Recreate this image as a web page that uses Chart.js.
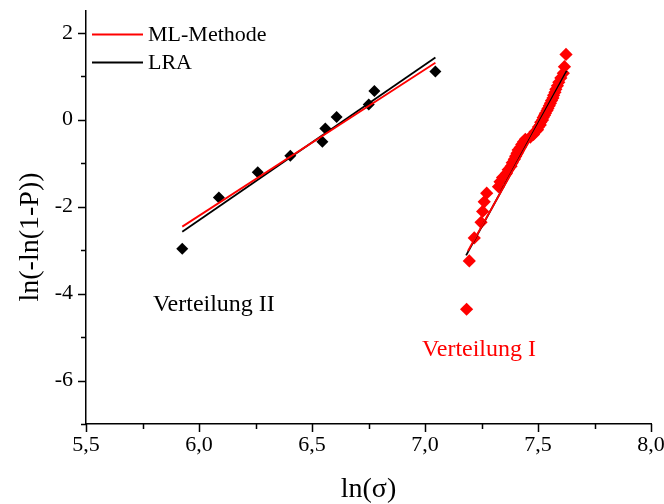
<!DOCTYPE html>
<html>
<head>
<meta charset="utf-8">
<script src="https://cdn.jsdelivr.net/npm/chart.js@4/dist/chart.umd.min.js"></script>
<style>
  html, body { margin: 0; padding: 0; background: #fff; }
  canvas { display: block; }
</style>
</head>
<body>
<canvas id="c" width="664" height="504"></canvas>
<script>
// Weibull plot: ln(-ln(1-P)) against ln(sigma) for two strength distributions

// Distribution II (black markers)
const distIIx = [5.926, 6.088, 6.260, 6.404, 6.546, 6.559, 6.609, 6.751, 6.776, 7.046];
const distIIy = [-2.97, -1.79, -1.21, -0.83, -0.51, -0.20, 0.06, 0.35, 0.66, 1.11];

// Distribution I (red markers)
const distIx = [7.184, 7.196, 7.218, 7.248, 7.255, 7.262, 7.273,
  7.325, 7.332, 7.343, 7.360, 7.368, 7.381, 7.386, 7.395, 7.401, 7.407,
  7.412, 7.421, 7.428, 7.436, 7.444, 7.466, 7.480, 7.487, 7.498, 7.502,
  7.510, 7.512, 7.520, 7.523, 7.529, 7.533, 7.540, 7.544, 7.550, 7.555,
  7.560, 7.566, 7.569, 7.575, 7.579, 7.586, 7.592, 7.601, 7.612, 7.617, 7.624];
const distIy = [-4.36, -3.25, -2.72, -2.36, -2.11, -1.89, -1.69,
  -1.54, -1.43, -1.33, -1.24, -1.15, -1.07, -0.99, -0.91, -0.84, -0.77,
  -0.70, -0.64, -0.57, -0.51, -0.45, -0.40, -0.34, -0.28, -0.23, -0.17,
  -0.12, -0.06, -0.01, 0.05, 0.10, 0.15, 0.21, 0.26, 0.32, 0.38,
  0.44, 0.50, 0.56, 0.63, 0.70, 0.78, 0.86, 0.96, 1.07, 1.22, 1.50];

// Fitted lines (end points): maximum likelihood and linear regression
const mlIIx = [5.926, 7.046];
const mlIIy = [-2.46, 1.31];
const lraIIx = [5.926, 7.046];
const lraIIy = [-2.58, 1.43];
const mlIx = [7.190, 7.630];
const mlIy = [-3.02, 1.08];
const lraIx = [7.182, 7.627];
const lraIy = [-3.12, 1.12];

const legendLabels = ['ML-Methode', 'LRA'];
const groupLabels = ['Verteilung II', 'Verteilung I'];
const xTitle = 'ln(\u03c3)';
const yTitle = 'ln(-ln(1-P))';

const xMin = 5.5, xMax = 8.0, xStep = 0.25;
const yMin = -7, yMax = 2.5, yStep = 1;

const RED = '#ff0000';
const BLACK = '#000000';
const SERIF = '"Liberation Serif", "Times New Roman", serif';

const pts = (xs, ys) => xs.map((x, i) => ({ x, y: ys[i] }));

function markerSet(label, xs, ys, color, r) {
  return {
    label, data: pts(xs, ys), showLine: false, order: 2,
    pointStyle: 'rectRot', pointRadius: r, pointHoverRadius: r,
    backgroundColor: color, borderColor: color, borderWidth: 0
  };
}
function lineSet(label, xs, ys, color, order) {
  return {
    label, data: pts(xs, ys), showLine: true, order,
    pointRadius: 0, borderColor: color, borderWidth: 1.8,
    backgroundColor: color, fill: false
  };
}

const isMajorX = v => Math.abs(Math.round(v * 2) - v * 2) < 1e-6;
const isMajorY = v => Math.abs(Math.round(v / 2) * 2 - v) < 1e-6;
const isInt = v => Math.abs(Math.round(v) - v) < 1e-6;

// Major/minor tick marks drawn outside the axes
const tickMarks = {
  id: 'tickMarks',
  afterDraw(chart) {
    const { ctx, chartArea: a, scales: { x, y } } = chart;
    ctx.save();
    ctx.strokeStyle = BLACK;
    ctx.lineWidth = 1.5;
    ctx.beginPath();
    for (let v = xMin; v <= xMax + 1e-9; v += xStep) {
      const px = Math.round(x.getPixelForValue(v)) + 0.5;
      const len = isMajorX(v) ? 8 : 5;
      ctx.moveTo(px, a.bottom);
      ctx.lineTo(px, a.bottom + len);
    }
    for (let v = yMin; v <= 2 + 1e-9; v += yStep) {
      const py = Math.round(y.getPixelForValue(v)) + 0.5;
      const len = isMajorY(v) ? 8 : 5;
      ctx.moveTo(a.left, py);
      ctx.lineTo(a.left - len, py);
    }
    ctx.stroke();
    ctx.restore();
  }
};

// Legend, group labels and axis titles
const annotations = {
  id: 'annotations',
  afterDraw(chart) {
    const { ctx, chartArea: a, scales: { x, y } } = chart;
    ctx.save();
    // legend
    const legendColors = [RED, BLACK];
    ctx.font = '22px ' + SERIF;
    ctx.textAlign = 'left';
    ctx.textBaseline = 'middle';
    legendLabels.forEach((t, i) => {
      const ly = a.top + 23.5 + i * 28;
      ctx.strokeStyle = legendColors[i];
      ctx.lineWidth = 1.8;
      ctx.beginPath();
      ctx.moveTo(a.left + 6, ly);
      ctx.lineTo(a.left + 57, ly);
      ctx.stroke();
      ctx.fillStyle = BLACK;
      ctx.fillText(t, a.left + 62, ly + 1);
    });
    // group labels
    ctx.font = '24px ' + SERIF;
    ctx.fillStyle = BLACK;
    ctx.fillText(groupLabels[0], x.getPixelForValue(5.796), y.getPixelForValue(-4.26));
    ctx.fillStyle = RED;
    ctx.fillText(groupLabels[1], x.getPixelForValue(6.987), y.getPixelForValue(-5.30));
    // axis titles
    ctx.fillStyle = BLACK;
    ctx.font = '28px ' + SERIF;
    ctx.textAlign = 'center';
    ctx.fillText(xTitle, (a.left + a.right) / 2, 490);
    ctx.translate(31, 237);
    ctx.rotate(-Math.PI / 2);
    ctx.fillText(yTitle, 0, 0);
    ctx.restore();
  }
};

new Chart(document.getElementById('c'), {
  type: 'scatter',
  data: {
    datasets: [
      lineSet('ML-Methode II', mlIIx, mlIIy, RED, 0),
      lineSet('ML-Methode I', mlIx, mlIy, RED, 0),
      lineSet('LRA II', lraIIx, lraIIy, BLACK, 1),
      lineSet('LRA I', lraIx, lraIy, BLACK, 1),
      markerSet('Verteilung II', distIIx, distIIy, BLACK, 6),
      markerSet('Verteilung I', distIx, distIy, RED, 6.6)
    ]
  },
  options: {
    responsive: false,
    animation: false,
    events: [],
    layout: { padding: { top: 11, left: 0, right: 0, bottom: 0 } },
    plugins: { legend: { display: false }, tooltip: { enabled: false } },
    scales: {
      x: {
        type: 'linear', min: xMin, max: xMax,
        afterFit(s) { s.height = 80; s.paddingLeft = 0; s.paddingRight = 13; },
        grid: { display: false, drawTicks: false },
        border: { display: true, color: BLACK, width: 1.5 },
        ticks: {
          stepSize: xStep, autoSkip: false, maxRotation: 0, padding: 8,
          color: BLACK, font: { family: SERIF, size: 22 },
          callback: v => isMajorX(v) ? v.toFixed(1).replace('.', ',') : ''
        }
      },
      y: {
        type: 'linear', min: yMin, max: yMax,
        afterFit(s) { s.width = 86; s.paddingTop = 0; s.paddingBottom = 0; },
        grid: { display: false, drawTicks: false },
        border: { display: true, color: BLACK, width: 1.5 },
        ticks: {
          stepSize: yStep, autoSkip: false, padding: 13, includeBounds: false,
          color: BLACK, font: { family: SERIF, size: 22 },
          callback: v => (isInt(v) && isMajorY(v)) ? String(v) : ''
        }
      }
    }
  },
  plugins: [tickMarks, annotations]
});
</script>
</body>
</html>
